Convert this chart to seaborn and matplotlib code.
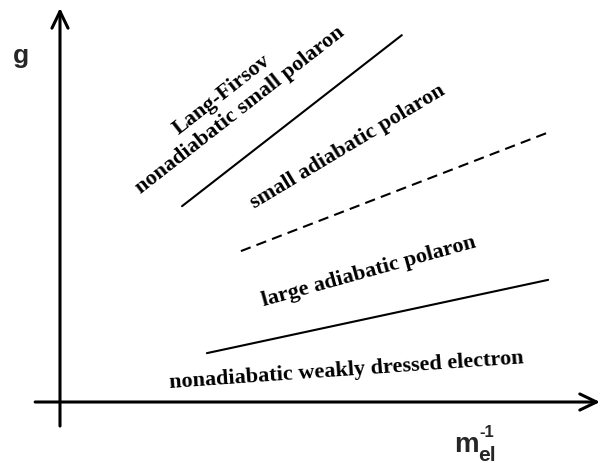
import matplotlib
matplotlib.use("Agg")
import matplotlib.pyplot as plt
import seaborn as sns
import pandas as pd

# Phase boundaries (x = inverse electron mass, y = coupling g), arbitrary units
lf_boundary_x = [2.26, 6.33]
lf_boundary_y = [4.97, 9.31]
small_large_x = [3.35, 9.02]
small_large_y = [3.83, 6.83]
weak_boundary_x = [2.72, 9.04]
weak_boundary_y = [1.24, 3.10]

# Region labels: text, x, y, angle
region_text = ["Lang-Firsov",
               "nonadiabatic small polaron",
               "small adiabatic polaron",
               "large adiabatic polaron",
               "nonadiabatic weakly dressed electron"]
region_x = [2.99, 3.33, 5.32, 5.72, 5.31]
region_y = [7.83, 7.44, 6.50, 3.34, 0.81]
region_angle = [38, 38, 31, 15.5, 4]

sns.set_theme(style="white")
plt.rcParams["font.family"] = ["Liberation Serif", "DejaVu Serif"]

fig = plt.figure(figsize=(6.03, 4.64), dpi=100)
ax = fig.add_axes([0, 0, 1, 1])
ax.set_xlim(-1.111, 10.056)
ax.set_ylim(-1.548, 10.228)
ax.axis("off")

# Boundaries
sns.lineplot(x=lf_boundary_x, y=lf_boundary_y, ax=ax, color="black", lw=1.5)
sns.lineplot(x=small_large_x, y=small_large_y, ax=ax, color="black", lw=1.5,
             linestyle=(0, (5, 3)))
sns.lineplot(x=weak_boundary_x, y=weak_boundary_y, ax=ax, color="black", lw=1.5)

# Axes with open arrowheads
arrow = dict(arrowstyle="->,head_length=1.2,head_width=0.58", lw=2.2,
             color="black", mutation_scale=10, shrinkA=0, shrinkB=0)
ax.annotate("", xy=(10.0, 0), xytext=(-0.46, 0), arrowprops=arrow)
ax.annotate("", xy=(0, 10.0), xytext=(0, -0.61), arrowprops=arrow)

# Region labels
for t, x, y, a in zip(region_text, region_x, region_y, region_angle):
    ax.text(x, y, t, rotation=a, rotation_mode="anchor", ha="center",
            va="center", fontsize=16, fontweight="bold", color="black")

# Axis labels
sans = ["Liberation Sans", "DejaVu Sans"]
ax.text(-0.73, 8.63, "g", family=sans, fontsize=19, fontweight="bold",
        ha="center", va="baseline")
ax.text(7.52, -1.24, "m", family=sans, fontsize=20, fontweight="bold",
        ha="center", va="baseline")
ax.text(7.74, -1.47, "el", family=sans, fontsize=15, fontweight="bold",
        ha="left", va="baseline")
ax.text(7.76, -0.86, "-1", family=sans, fontsize=12, fontweight="bold",
        ha="left", va="baseline")

fig.savefig("out.png", dpi=100)
